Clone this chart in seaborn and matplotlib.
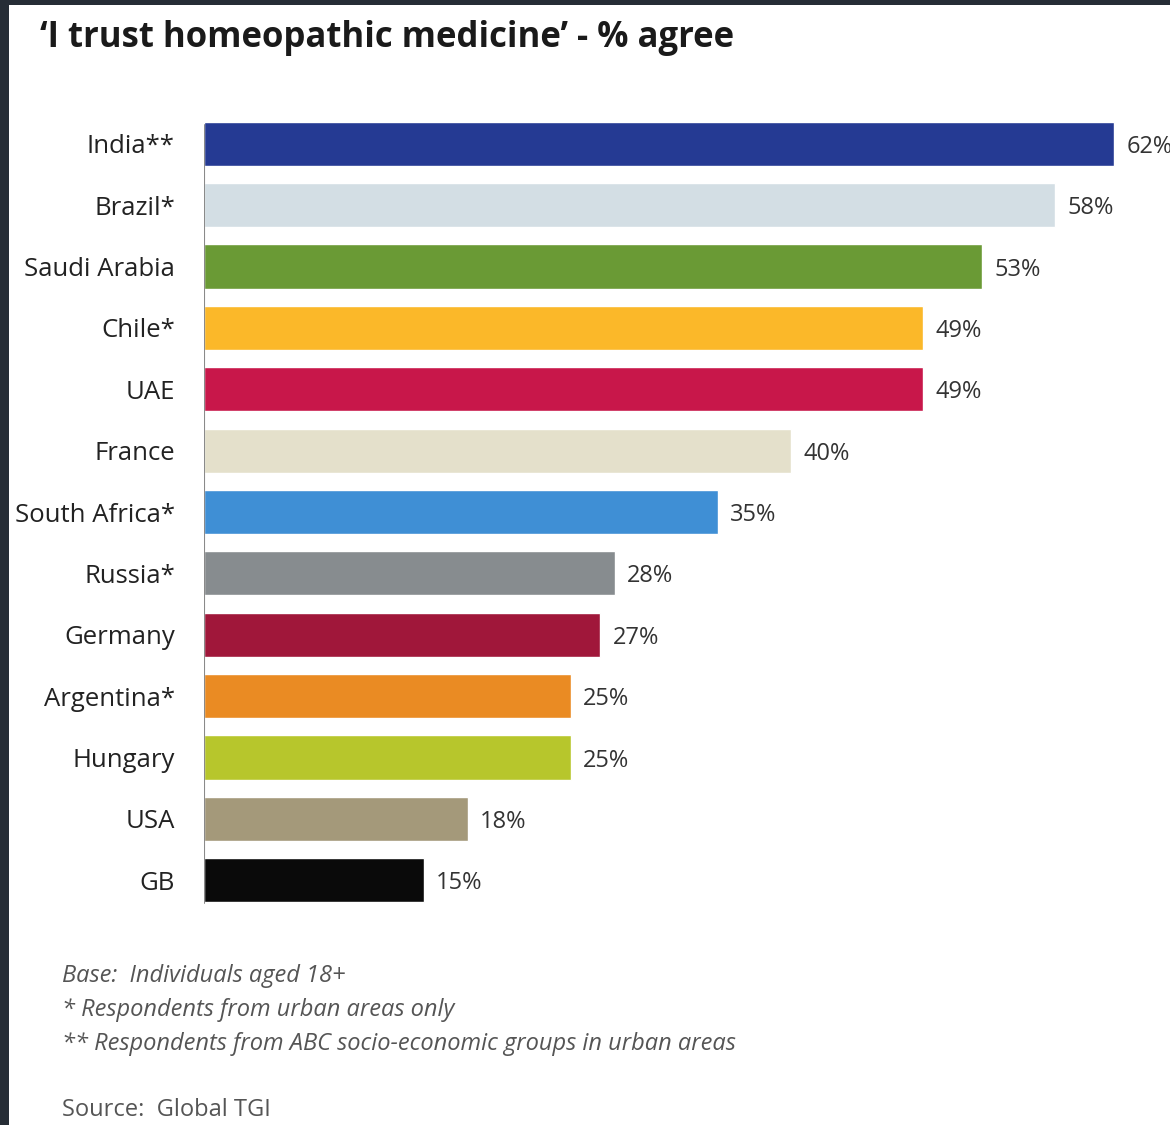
import matplotlib
matplotlib.use("Agg")
import matplotlib.pyplot as plt
import matplotlib.patches as mpatches
import seaborn as sns
import pandas as pd

countries = ["India**", "Brazil*", "Saudi Arabia", "Chile*", "UAE", "France",
             "South Africa*", "Russia*", "Germany", "Argentina*", "Hungary", "USA", "GB"]
agree_pct = [62, 58, 53, 49, 49, 40, 35, 28, 27, 25, 25, 18, 15]
bar_colors = ["#253a93", "#d3dee4", "#6a9a35", "#fbb829", "#c8174a", "#e4e0cb",
              "#3f8fd5", "#878c8f", "#a0173a", "#ea8b23", "#b7c62c", "#a4997a", "#0a0a0a"]

title = "\u2018I trust homeopathic medicine\u2019 - % agree"
notes = ["Base:  Individuals aged 18+",
         "* Respondents from urban areas only",
         "** Respondents from ABC socio-economic groups in urban areas"]
source = "Source:  Global TGI"

df = pd.DataFrame({"country": countries, "pct": agree_pct})

sns.set_theme(style="white")
plt.rcParams["font.family"] = ["Open Sans", "DejaVu Sans"]

fig = plt.figure(figsize=(11.7, 11.25), dpi=100)
fig.patch.set_facecolor("#262d36")
# white card inside the dark frame
fig.patches.append(mpatches.Rectangle((9 / 1170, 0), 1, 1 - 5 / 1125,
                                      transform=fig.transFigure, facecolor="white",
                                      edgecolor="none", zorder=-10))

ax = fig.add_axes([204 / 1170, 1 - 911 / 1125, 1 - 204 / 1170, (911 - 113) / 1125])
ax.set_facecolor("none")
sns.barplot(data=df, x="pct", y="country", hue="country", palette=bar_colors,
            legend=False, width=0.72, ax=ax, saturation=1)
ax.set_xlim(0, (1170 - 204) / 14.68)
ax.set_ylim(12.5, -0.5)

for i, v in enumerate(agree_pct):
    ax.text(v + 0.82, i + 0.05, f"{v}%", va="center", ha="left", fontsize=17,
            color="#333333", clip_on=False)

sns.despine(ax=ax, top=True, right=True, bottom=True, left=True)
ax.axvline(0, ymin=0.01, ymax=0.985, color="#8a8a8a", lw=1.5)
ax.set_xticks([])
ax.set_xlabel("")
ax.set_ylabel("")
ax.tick_params(axis="y", length=0, pad=21, labelsize=18.5, labelcolor="#222222")

fig.text(40 / 1170, 1 - 38 / 1125, title, fontsize=25, fontweight="bold",
         color="#1a1a1a", va="center", ha="left")

for k, line in enumerate(notes):
    fig.text(62 / 1170, 1 - (976 + 34 * k) / 1125, line, fontsize=17, style="italic",
             color="#555555", va="center", ha="left")
fig.text(62 / 1170, 1 - 1110 / 1125, source, fontsize=17, color="#555555",
         va="center", ha="left")

fig.savefig("out.png", dpi=100, facecolor=fig.get_facecolor())
